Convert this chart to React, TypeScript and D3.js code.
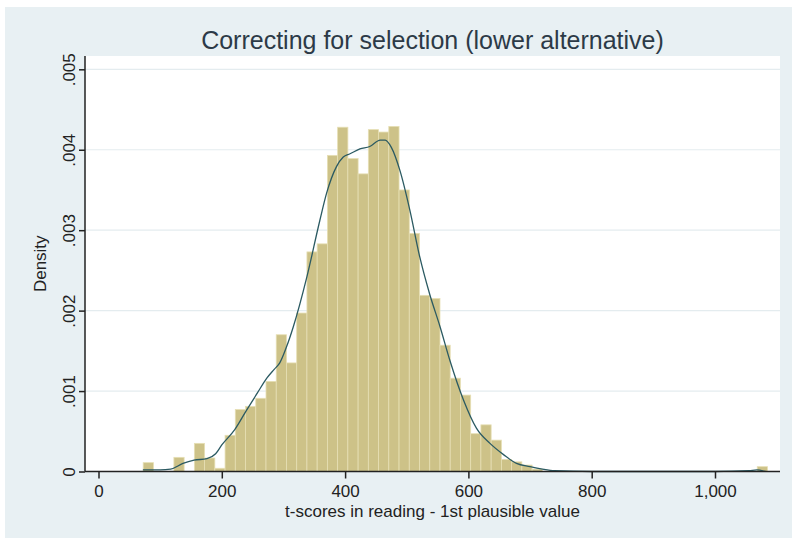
import { useRef, useEffect } from 'react';
import * as d3 from 'd3';

// histogram: bin start, width and density of each bin
const binStart = 72.5;
const binWidth = 16.6;
const binDensity = [
  0.00011, 0, 0, 0.000176, 0, 0.00035, 0.000168, 0.00004, 0.00045, 0.00077,
  0.00081, 0.00091, 0.00112, 0.0017, 0.00135, 0.00197, 0.00273, 0.00283, 0.00393, 0.00428,
  0.00389, 0.0037, 0.00425, 0.00422, 0.00429, 0.0035, 0.00296, 0.00219, 0.00215, 0.00157,
  0.00116, 0.00095, 0.00047, 0.00058, 0.00039, 0.00015, 0.00012, 0.00008, 0.00003, 0,
  0, 0, 0, 0, 0, 0, 0, 0, 0, 0,
  0, 0, 0, 0, 0, 0, 0, 0, 0, 0,
  0.00006,
];

// kernel density line
const densX = [72, 100, 117, 137, 155, 176, 190, 200, 221, 240, 258, 273, 285, 294, 305, 316, 338, 359, 370, 386, 397, 408, 424, 440, 457, 465, 475, 489, 505, 521, 537, 554, 570, 592, 613, 635, 657, 678, 700, 720, 740, 800, 900, 1000, 1055, 1068, 1082];
const densY = [0.00002, 0.00002, 0.00003, 0.0001, 0.00014, 0.00016, 0.00022, 0.00033, 0.00052, 0.00076, 0.00098, 0.00116, 0.00127, 0.00135, 0.00155, 0.0018, 0.00242, 0.00312, 0.00346, 0.00379, 0.00391, 0.00395, 0.00401, 0.00404, 0.00412, 0.00412, 0.00403, 0.00374, 0.00325, 0.00267, 0.00221, 0.0018, 0.00138, 0.00089, 0.00054, 0.00035, 0.00021, 0.0001, 0.00006, 0.00003, 0.00001, 0, 0, 0, 0.00001, 0.00002, 0];

const xTicks = [0, 200, 400, 600, 800, 1000];
const yTicks = [0, 0.001, 0.002, 0.003, 0.004, 0.005];

const titleText = 'Correcting for selection (lower alternative)';
const xTitle = 't-scores in reading - 1st plausible value';
const yTitle = 'Density';

const W = 792;
const H = 541;

export default function App() {
  const svgRef = useRef<SVGSVGElement>(null);

  useEffect(() => {
    if (!svgRef.current) return;
    const svg = d3.select(svgRef.current);
    svg.selectAll('*').remove();

    const font = "'Liberation Sans', Arial, sans-serif";
    const left = 85, right = 780, top = 56, bottom = 471.5;

    // white outer border + bluish graph region
    svg.append('rect').attr('width', W).attr('height', H).attr('fill', '#ffffff');
    svg.append('rect').attr('x', 5).attr('y', 7).attr('width', W - 5).attr('height', 531).attr('fill', '#e8f0f3');

    const x = d3.scaleLinear().domain([0, 1000]).range([98.5, 715]);
    const y = d3.scaleLinear().domain([0, 0.005]).range([bottom, 69.3]);

    // plot region
    svg.append('rect')
      .attr('x', left).attr('y', top)
      .attr('width', right - left).attr('height', bottom - top)
      .attr('fill', '#ffffff');

    // gridlines
    svg.append('g')
      .selectAll('line')
      .data(yTicks.filter(d => d > 0))
      .enter()
      .append('line')
      .attr('x1', left).attr('x2', right)
      .attr('y1', d => y(d)).attr('y2', d => y(d))
      .attr('stroke', '#e4ecef')
      .attr('stroke-width', 1.2);

    // histogram bars
    svg.append('g')
      .selectAll('rect')
      .data(binDensity.map((d, i) => ({ x0: binStart + i * binWidth, v: d })).filter(d => d.v > 0))
      .enter()
      .append('rect')
      .attr('x', d => x(d.x0))
      .attr('y', d => y(d.v))
      .attr('width', x(binStart + binWidth) - x(binStart))
      .attr('height', d => bottom - y(d.v))
      .attr('fill', '#cdc288')
      .attr('stroke', '#e6dfb4')
      .attr('stroke-width', 0.8);

    // density line
    const line = d3.line<number>()
      .x((_, i) => x(densX[i]))
      .y(d => y(d))
      .curve(d3.curveMonotoneX);

    svg.append('path')
      .datum(densY)
      .attr('fill', 'none')
      .attr('stroke', '#2b5a62')
      .attr('stroke-width', 1.3)
      .attr('d', line);

    // x axis
    const xAxis = svg.append('g')
      .attr('transform', `translate(0,${bottom})`)
      .call(d3.axisBottom(x)
        .tickValues(xTicks)
        .tickSize(7)
        .tickPadding(6)
        .tickFormat(d => d3.format(',')(d as number)));
    xAxis.select('.domain').attr('d', `M${left},0H${right}`).attr('stroke', '#222').attr('stroke-width', 1.5);
    xAxis.selectAll('.tick line').attr('stroke', '#222').attr('stroke-width', 1.5);
    xAxis.selectAll('text')
      .style('font-family', font)
      .style('font-size', '17px')
      .style('fill', '#222');

    // y axis
    const yAxis = svg.append('g')
      .attr('transform', `translate(${left},0)`)
      .call(d3.axisLeft(y)
        .tickValues(yTicks)
        .tickSize(6)
        .tickFormat(d => (d === 0 ? '0' : d3.format('.3f')(d as number).replace(/^0/, ''))));
    yAxis.select('.domain').attr('d', `M0,${bottom}V${top}`).attr('stroke', '#222').attr('stroke-width', 1.5);
    yAxis.selectAll('.tick line').attr('stroke', '#222').attr('stroke-width', 1.5);
    yAxis.selectAll('text')
      .attr('x', null)
      .attr('dy', null)
      .attr('transform', 'translate(-10,0) rotate(-90)')
      .style('text-anchor', 'middle')
      .style('font-family', font)
      .style('font-size', '17px')
      .style('fill', '#222');

    // titles
    svg.append('text')
      .attr('x', (left + right) / 2)
      .attr('y', 49)
      .attr('text-anchor', 'middle')
      .style('font-family', font)
      .style('font-size', '25px')
      .style('fill', '#2c3a47')
      .text(titleText);

    svg.append('text')
      .attr('x', (left + right) / 2)
      .attr('y', 517)
      .attr('text-anchor', 'middle')
      .style('font-family', font)
      .style('font-size', '17px')
      .style('fill', '#222')
      .text(xTitle);

    svg.append('text')
      .attr('transform', `translate(46,${(top + bottom) / 2}) rotate(-90)`)
      .attr('text-anchor', 'middle')
      .style('font-family', font)
      .style('font-size', '17px')
      .style('fill', '#222')
      .text(yTitle);
  }, []);

  return (
    <div style={{ position: 'absolute', left: 0, top: 0 }}>
      <svg ref={svgRef} width={W} height={H} style={{ display: 'block' }} />
    </div>
  );
}
